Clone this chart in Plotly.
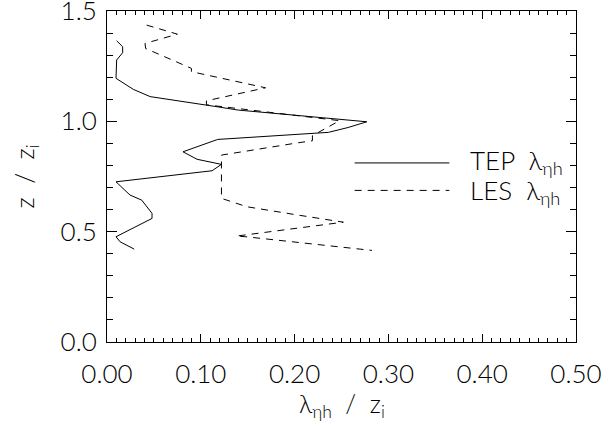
import plotly.graph_objects as go

# TEP lambda_eta_h / z_i profile
tep_x = [0.0103, 0.0167, 0.0167, 0.0103, 0.0096, 0.0174, 0.028, 0.046, 0.078, 0.113, 0.14, 0.204, 0.277,
         0.257, 0.236, 0.118, 0.081, 0.096, 0.122, 0.112, 0.0096, 0.0245, 0.037, 0.048, 0.048, 0.0096, 0.014, 0.029]
tep_z = [1.365, 1.338, 1.311, 1.278, 1.195, 1.175, 1.145, 1.112, 1.093, 1.069, 1.051, 1.025, 0.998,
         0.972, 0.950, 0.918, 0.862, 0.828, 0.805, 0.776, 0.726, 0.666, 0.643, 0.583, 0.560, 0.477, 0.454, 0.421]

# LES lambda_eta_h / z_i profile
les_x = [0.0423, 0.075, 0.0405, 0.0412, 0.090, 0.090, 0.169, 0.106, 0.106, 0.175, 0.248, 0.219, 0.219,
         0.204, 0.122, 0.122, 0.149, 0.204, 0.252, 0.138, 0.148, 0.2825]
les_z = [1.436, 1.395, 1.353, 1.330, 1.240, 1.225, 1.152, 1.093, 1.075, 1.040, 1.003, 0.935, 0.912,
         0.903, 0.847, 0.651, 0.613, 0.575, 0.543, 0.480, 0.477, 0.415]

x_ticks = [0.0, 0.1, 0.2, 0.3, 0.4, 0.5]
x_labels = ["0.00", "0.10", "0.20", "0.30", "0.40", "0.50"]
y_ticks = [0.0, 0.5, 1.0, 1.5]
y_labels = ["0.0", "0.5", "1.0", "1.5"]

FONT = dict(family="Lato, DejaVu Sans", size=26, color="black", weight=300)
TITLE_FONT = dict(family="Lato, DejaVu Sans", size=25, color="black", weight=300)
LEG_FONT = dict(family="Lato, DejaVu Sans", size=26, color="black", weight=300)

fig = go.Figure()
fig.add_trace(go.Scatter(x=tep_x, y=tep_z, mode="lines",
                         line=dict(color="black", width=1), name="TEP"))
fig.add_trace(go.Scatter(x=les_x, y=les_z, mode="lines",
                         line=dict(color="black", width=1, dash="7px,6px"), name="LES"))

axis_common = dict(showline=True, linecolor="black", linewidth=1, mirror="allticks",
                   ticks="inside", tickcolor="black", showgrid=False, zeroline=False,
                   tickfont=FONT, ticklabeloverflow="allow", automargin=False)

fig.update_xaxes(range=[0, 0.5], tickvals=x_ticks, ticktext=x_labels, ticklen=8,
                 ticklabelstandoff=9,
                 minor=dict(dtick=0.01, ticks="inside", ticklen=4, tickcolor="black", showgrid=False),
                 **axis_common)
fig.update_yaxes(range=[0, 1.5], tickvals=y_ticks, ticktext=y_labels, ticklen=10,
                 ticklabelstandoff=4,
                 minor=dict(dtick=0.1, ticks="inside", ticklen=6, tickcolor="black", showgrid=False),
                 **axis_common)

# axis titles
fig.add_annotation(xref="paper", yref="paper", x=0.5, y=0, xanchor="center", yanchor="top",
                   yshift=-44, text="λ<sub>ηh</sub>  /  z<sub>i</sub>", showarrow=False, font=TITLE_FONT)
fig.add_annotation(xref="paper", yref="paper", x=0, y=0.5, xanchor="center", yanchor="middle",
                   xshift=-82, textangle=-90, text="z  /  z<sub>i</sub>", showarrow=False, font=TITLE_FONT)

# legend drawn manually
fig.add_shape(type="line", xref="paper", yref="paper", x0=0.528, x1=0.73, y0=0.541, y1=0.541,
              line=dict(color="black", width=1))
fig.add_shape(type="line", xref="paper", yref="paper", x0=0.528, x1=0.73, y0=0.458, y1=0.458,
              line=dict(color="black", width=1, dash="7px,6px"))
fig.add_annotation(xref="paper", yref="paper", x=0.77, y=0.545, xanchor="left", yanchor="middle",
                   text="TEP  λ<sub>ηh</sub>", showarrow=False, font=LEG_FONT)
fig.add_annotation(xref="paper", yref="paper", x=0.77, y=0.455, xanchor="left", yanchor="middle",
                   text="LES  λ<sub>ηh</sub>", showarrow=False, font=LEG_FONT)

fig.update_layout(width=605, height=423, margin=dict(l=107, r=29, t=11, b=81),
                  plot_bgcolor="white", paper_bgcolor="white", showlegend=False)

fig.write_html("out.html")
